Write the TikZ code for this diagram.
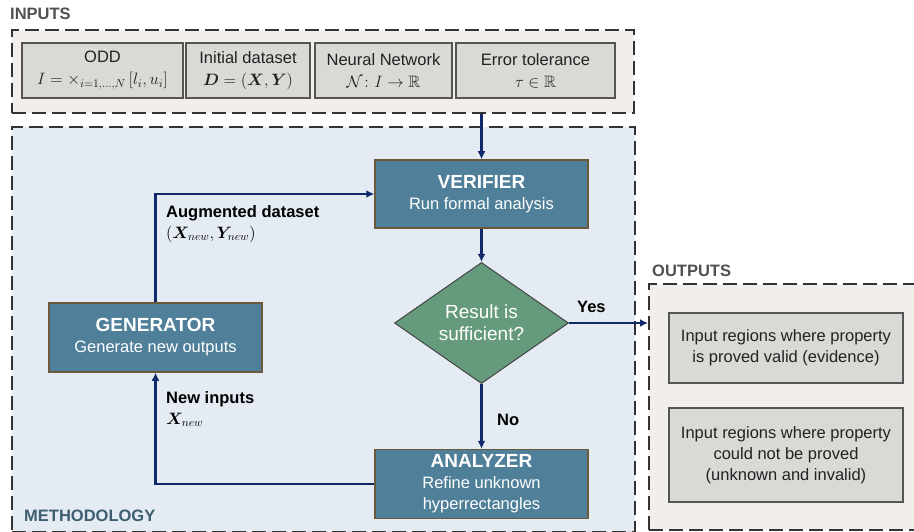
\documentclass[tikz,border=0pt]{standalone}
\usepackage{fix-cm}
\usepackage{amsmath,amssymb}
\usepackage{bm}
\usepackage{fontspec}
\setmainfont{Liberation Sans}
\usetikzlibrary{shapes.geometric,arrows.meta}

\definecolor{flowblue}{HTML}{10296B}
\definecolor{framegray}{HTML}{333333}
\definecolor{inbg}{HTML}{F2EEEB}
\definecolor{methbg}{HTML}{E4EBF2}
\definecolor{infill}{HTML}{D9D9D6}
\definecolor{inborder}{HTML}{555555}
\definecolor{intext}{HTML}{222222}
\definecolor{procfill}{HTML}{4F7F99}
\definecolor{procborder}{HTML}{6B5A3A}
\definecolor{checkfill}{HTML}{659B7C}
\definecolor{checkborder}{HTML}{454545}
\definecolor{secgray}{HTML}{505050}
\definecolor{methtext}{HTML}{3C5E70}

\newcommand{\bodysize}{\fontsize{16.5}{21}\selectfont}
\newcommand{\headsize}{\fontsize{19}{23}\selectfont\bfseries}

\begin{document}
\begin{tikzpicture}[x=1pt, y=-1pt,
    frame/.style={draw=framegray, line width=2pt, dash pattern=on 14pt off 6pt},
    inbox/.style={draw=inborder, line width=1.5pt, fill=infill, text=intext,
        align=center, minimum height=55pt, inner sep=0pt, font=\bodysize},
    procbox/.style={draw=procborder, line width=1.5pt, fill=procfill, text=white,
        align=center, minimum width=213pt, minimum height=68pt, font=\bodysize},
    decide/.style={diamond, draw=checkborder, line width=1pt, fill=checkfill, text=white,
        align=center, inner sep=0pt, minimum width=174pt, minimum height=120pt,
        font=\fontsize{19}{22}\selectfont},
    outbox/.style={draw=inborder, line width=1.5pt, fill=infill, text=intext,
        align=center, minimum width=234pt, font=\bodysize},
    flow/.style={draw=flowblue, line width=2.2pt, -{Latex[length=8pt,width=8pt]}},
    seclabel/.style={anchor=west, inner sep=0pt, font=\fontsize{16.5}{19}\selectfont},
    edgelabel/.style={anchor=west, inner sep=0pt, align=left, font=\bodysize}
]

    \fill[white] (0,0) rectangle (914,532);
    \useasboundingbox (0,0) rectangle (914,532);

    % Frames
    \node[frame, fill=inbg, minimum width=622pt, minimum height=83pt] (inframe) at (323,71.5) {};
    \node[frame, fill=methbg, minimum width=623pt, minimum height=405pt] (methframe) at (323.5,329.5) {};
    \node[frame, fill=inbg, minimum width=271pt, minimum height=246pt] (outframe) at (784.5,407) {};

    % Section labels
    \node[seclabel, text=secgray] (inlabel) at (10,14) {\textbf{INPUTS}};
    \node[seclabel, text=secgray] (outlabel) at (652,271) {\textbf{OUTPUTS}};
    \node[seclabel, text=methtext] (methlabel) at (24,516) {\textbf{METHODOLOGY}};

    % Inputs
    \node[inbox, minimum width=161pt] (odd) at (102.5,70.5)
        {ODD\\[1pt] $I = \times_{i=1,\dots,N}\,[l_i,u_i]$};
    \node[inbox, minimum width=124pt] (dataset) at (248,70.5)
        {Initial dataset\\[1pt] $\bm{D} = (\bm{X},\bm{Y})$};
    \node[inbox, minimum width=137pt] (network) at (383.5,70.5)
        {Neural Network\\[1pt] $\mathcal{N}\colon I \to \mathbb{R}$};
    \node[inbox, minimum width=159pt] (tolerance) at (535.5,70.5)
        {Error tolerance\\[1pt] $\tau \in \mathbb{R}$};

    % Methodology
    \node[procbox] (verifier) at (481.5,194) {{\headsize VERIFIER}\\ Run formal analysis};
    \node[decide] (check) at (481.5,323) {Result is\\ sufficient?};
    \node[procbox, minimum height=69pt] (analyzer) at (481.5,484)
        {{\headsize ANALYZER}\\ Refine unknown\\ hyperrectangles};
    \node[procbox, minimum height=69pt] (generator) at (155.5,337.5)
        {{\headsize GENERATOR}\\ Generate new outputs};

    % Outputs
    \node[outbox, minimum height=70pt] (valid) at (786,348)
        {Input regions where property\\ is proved valid (evidence)};
    \node[outbox, minimum height=94pt] (unproved) at (786,455)
        {Input regions where property\\ could not be proved\\ (unknown and invalid)};

    % Connectors
    \draw[flow] (verifier.north |- inframe.south) -- (verifier.north);
    \draw[flow] (verifier.south) -- (check.north);
    \draw[flow] (check.east) -- (check.east -| outframe.west);
    \draw[flow] (check.south) -- (analyzer.north);
    \draw[flow] (analyzer.west) -| (generator.south);
    \draw[flow] (generator.north) |- (verifier.west);

    % Connector labels
    \node[edgelabel] (yes) at (577,307) {\textbf{Yes}};
    \node[edgelabel] (no) at (497,420) {\textbf{No}};
    \node[edgelabel] (augmented) at (166,224)
        {\textbf{Augmented dataset}\\ $(\bm{X}_{new},\bm{Y}_{new})$};
    \node[edgelabel] (newinputs) at (166,409)
        {\textbf{New inputs}\\ $\bm{X}_{new}$};

\end{tikzpicture}
\end{document}
